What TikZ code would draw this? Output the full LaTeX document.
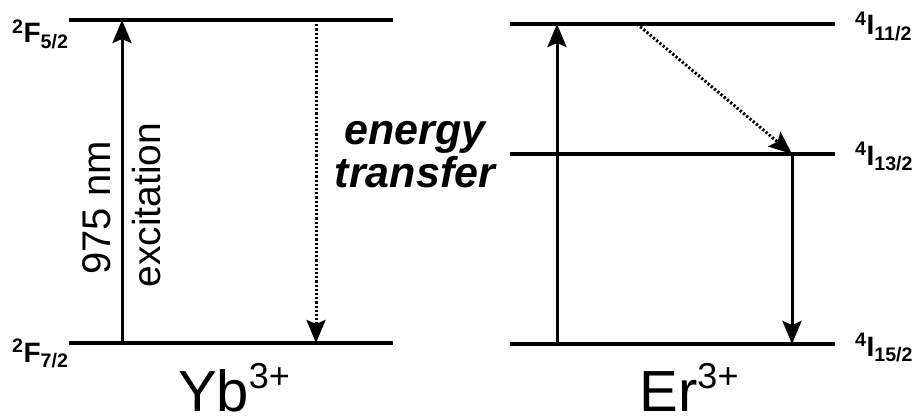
\documentclass[tikz,border=0pt]{standalone}
\usepackage{fontspec}
\setmainfont{Liberation Sans}
\usetikzlibrary{arrows.meta}
\newcommand\ionsup[1]{\raisebox{23pt}{\fontsize{36}{36}\selectfont #1}}
\tikzset{
  level line/.style={line width=3.5pt},
  transition/.style={line width=3pt, -{Stealth[length=23pt, width=19pt, inset=4pt]}},
  nonrad/.style={transition, dash pattern=on 2.2pt off 2pt},
  term label/.style={font=\fontsize{28}{30}\selectfont\bfseries, inner sep=0pt, anchor=base west},
  ion label/.style={font=\fontsize{58}{60}\selectfont, inner sep=0pt, text depth=0pt, anchor=base},
}

\begin{document}
\begin{tikzpicture}[x=1pt, y=-1pt]
  \useasboundingbox (0,0) rectangle (916,417);
  % Yb levels
  \coordinate (F52w) at (69,20);   \coordinate (F52e) at (393,20);
  \coordinate (F72w) at (69,343);  \coordinate (F72e) at (393,343);
  % Er levels
  \coordinate (I11w) at (510,24);  \coordinate (I11e) at (835,24);
  \coordinate (I13w) at (510,154); \coordinate (I13e) at (835,154);
  \coordinate (I15w) at (510,344); \coordinate (I15e) at (835,344);
  \foreach \lv in {F52,F72,I11,I13,I15}{\draw[level line] (\lv w) -- (\lv e);}
  \coordinate (exc0) at (122,343);  \coordinate (exc1) at (122,20);
  \coordinate (back0) at (316,20);  \coordinate (back1) at (316,343);
  \coordinate (abs0) at (557,344);  \coordinate (abs1) at (557,24);
  \coordinate (relax0) at (637,24); \coordinate (relax1) at (792,154);
  \coordinate (emis1) at (792,344);
  \draw[transition] (exc0) -- (exc1);
  \draw[nonrad] (back0) -- (back1);
  \draw[transition] (abs0) -- (abs1);
  \draw[nonrad] (relax0) -- (relax1);
  \draw[transition] (relax1) -- (emis1);
  \node[term label] (lF52) at (12,43)  {\textsuperscript{2}F\textsubscript{5/2}};
  \node[term label] (lF72) at (12,362) {\textsuperscript{2}F\textsubscript{7/2}};
  \node[term label] (lI11) at (855,35)  {\textsuperscript{4}I\textsubscript{11/2}};
  \node[term label] (lI13) at (855,165) {\textsuperscript{4}I\textsubscript{13/2}};
  \node[term label] (lI15) at (855,356) {\textsuperscript{4}I\textsubscript{15/2}};
  \node[rotate=90, anchor=base, inner sep=0pt, font=\fontsize{40}{40}\selectfont] (wavelen) at (110,208) {975 nm};
  \node[rotate=90, anchor=base, inner sep=0pt, font=\fontsize{39}{39}\selectfont] (excit) at (160,205) {excitation};
  \node[anchor=base, inner sep=0pt, font=\fontsize{43}{43}\selectfont\bfseries\itshape] (et1) at (415,145) {energy};
  \node[anchor=base, inner sep=0pt, font=\fontsize{43}{43}\selectfont\bfseries\itshape] (et2) at (415,188) {transfer};
  \node[ion label] (yb) at (234,411) {Yb\ionsup{3+}};
  \node[ion label] (er) at (689,411) {Er\ionsup{3+}};
\end{tikzpicture}
\end{document}
